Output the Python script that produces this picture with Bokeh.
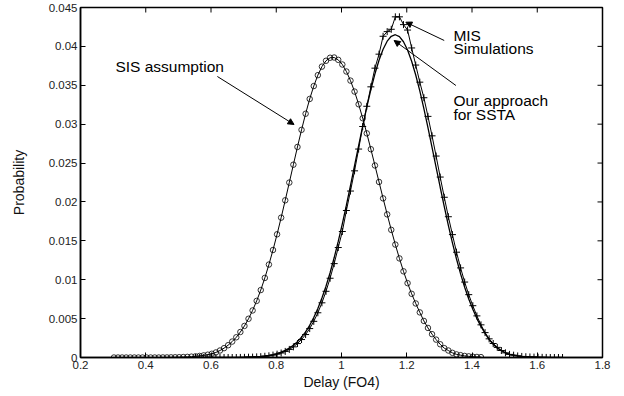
import math
from bokeh.plotting import figure
from bokeh.models import FixedTicker, Range1d, Arrow, NormalHead, Label
from bokeh.embed import file_html
from bokeh.resources import INLINE

# ---- data ----
sis_start, mis_start, bin_width = 0.3025, 0.5525, 0.0125

sis_prob = [0, 0, 0, 0, 0, 0, 0, 0, 0, 0,
            0, 0, 0.00001, 0.00001, 0.00002, 0.00003, 0.00004, 0.00006, 0.00008, 0.00011,
            0.00015, 0.0002, 0.00027, 0.00036, 0.00048, 0.00065, 0.0009, 0.0012, 0.00158, 0.00205,
            0.0026, 0.00328, 0.00406, 0.00498, 0.00605, 0.00728, 0.00867, 0.01023, 0.01195, 0.01382,
            0.01584, 0.01798, 0.02021, 0.02249, 0.02479, 0.02707, 0.02927, 0.03134, 0.03324, 0.0349,
            0.0363, 0.0374, 0.03815, 0.03854, 0.03857, 0.03827, 0.03767, 0.03677, 0.0356, 0.03419,
            0.03256, 0.03076, 0.02882, 0.02678, 0.02469, 0.02257, 0.02046, 0.0184, 0.01641, 0.01452,
            0.01274, 0.01108, 0.00956, 0.00819, 0.00695, 0.0058, 0.0047, 0.0038, 0.003, 0.0023,
            0.0017, 0.0012, 0.0009, 0.0006, 0.0004, 0.0003, 0.0002, 0.00015, 0.0001, 0.00007,
            0.00005]

mis_prob = [0, 0, 0, 0, 0, 0, 0, 0, 0, 0,
            0, 0.00001, 0.00002, 0.00004, 0.00005, 0.00008, 0.00011, 0.00016, 0.00022, 0.00031,
            0.00043, 0.00058, 0.00078, 0.00104, 0.00137, 0.00179, 0.00231, 0.00295, 0.00372, 0.00465,
            0.00575, 0.00703, 0.00851, 0.01019, 0.01207, 0.01414, 0.0162, 0.0189, 0.0214, 0.024,
            0.0268, 0.0297, 0.0323, 0.0348, 0.0372, 0.039, 0.0413, 0.0419, 0.0422, 0.0438,
            0.0438, 0.0428, 0.0421, 0.0398, 0.0376, 0.0354, 0.0334, 0.031, 0.0285, 0.0259,
            0.0232, 0.0206, 0.0181, 0.0158, 0.01354, 0.01152, 0.0097, 0.00808, 0.00666, 0.00535,
            0.0042, 0.0032, 0.0024, 0.0018, 0.0013, 0.0009, 0.0006, 0.0004, 0.0003, 0.0002,
            0.00014, 0.0001, 0.00007, 0.00005, 0.00003, 0.00002, 0.00001, 0, 0, 0,
            0]

ssta_prob = [0, 0, 0, 0, 0, 0, 0, 0, 0, 0,
             0, 0.00002, 0.00003, 0.00005, 0.00007, 0.0001, 0.00014, 0.0002, 0.00027, 0.00037,
             0.00051, 0.00069, 0.00092, 0.00121, 0.00158, 0.00204, 0.00261, 0.0033, 0.00414, 0.00513,
             0.00629, 0.00764, 0.00917, 0.0109, 0.01282, 0.01492, 0.01719, 0.01959, 0.02209, 0.02466,
             0.02723, 0.02976, 0.03218, 0.03444, 0.03647, 0.03822, 0.03963, 0.04067, 0.0413, 0.0415,
             0.04126, 0.0406, 0.03954, 0.03809, 0.03632, 0.03427, 0.032, 0.02956, 0.02702, 0.02445,
             0.02189, 0.01939, 0.017, 0.01474, 0.01266, 0.01075, 0.00904, 0.00752, 0.00619, 0.005,
             0.004, 0.0031, 0.0023, 0.0017, 0.0012, 0.0009, 0.0006, 0.0004, 0.0003, 0.0002,
             0.00014, 0.0001, 0.00007, 0.00005, 0.00003, 0.00002, 0.00001, 0, 0, 0,
             0]

# bin centres (uniform histogram bins)
sis_delay = [round(sis_start + bin_width * i, 4) for i in range(len(sis_prob))]
mis_delay = [round(mis_start + bin_width * i, 4) for i in range(len(mis_prob))]
ssta_delay = [round(mis_start + bin_width * i, 4) for i in range(len(ssta_prob))]

x_ticks = [0.2, 0.4, 0.6, 0.8, 1.0, 1.2, 1.4, 1.6, 1.8]
x_labels = ["0.2", "0.4", "0.6", "0.8", "1", "1.2", "1.4", "1.6", "1.8"]
y_ticks = [0, 0.005, 0.01, 0.015, 0.02, 0.025, 0.03, 0.035, 0.04, 0.045]
y_labels = ["0", "0.005", "0.01", "0.015", "0.02", "0.025", "0.03", "0.035", "0.04", "0.045"]

X_MIN, X_MAX, Y_MIN, Y_MAX = 0.2, 1.8, 0, 0.045
FONT = "Liberation Sans"

p = figure(width=624, height=396, x_range=Range1d(X_MIN, X_MAX), y_range=Range1d(Y_MIN, Y_MAX),
           output_backend="svg", toolbar_location=None,
           min_border_left=80, min_border_right=22, min_border_top=7, min_border_bottom=39)
p.grid.visible = False
p.outline_line_color = "black"
p.outline_line_width = 1.5
p.background_fill_color = "white"
p.border_fill_color = "white"


def style_axis(ax, ticks, labels):
    ax.ticker = FixedTicker(ticks=ticks)
    ax.major_label_overrides = {t: l for t, l in zip(ticks, labels)}
    ax.major_tick_in = 5
    ax.major_tick_out = 0
    ax.minor_tick_in = 0
    ax.minor_tick_out = 0
    ax.axis_line_width = 1.5
    ax.major_tick_line_width = 1
    ax.major_label_standoff = 3
    ax.major_label_text_font = FONT
    ax.major_label_text_font_size = "11.5px"
    ax.major_label_text_color = "#222222"
    ax.axis_label_text_font = FONT
    ax.axis_label_text_font_size = "14px"
    ax.axis_label_text_font_style = "normal"
    ax.axis_label_text_color = "#111111"


style_axis(p.xaxis[0], x_ticks, x_labels)
style_axis(p.yaxis[0], y_ticks, y_labels)
p.xaxis[0].axis_label = "Delay (FO4)"
p.xaxis[0].axis_label_standoff = 2
p.yaxis[0].axis_label = "Probability"
p.yaxis[0].axis_label_standoff = 19

# tick marks on the top and right edges of the box (half of each dash is clipped by the frame)
p.scatter(x_ticks, [Y_MAX] * len(x_ticks), marker="dash", angle=math.pi / 2, size=10,
          line_color="black", line_width=1)
p.scatter([X_MAX] * len(y_ticks), y_ticks, marker="dash", size=10,
          line_color="black", line_width=1)

# curves
p.line(sis_delay, sis_prob, line_color="black", line_width=1)
p.scatter(sis_delay, sis_prob, marker="circle", size=5.5, fill_color=None,
          line_color="black", line_width=0.8)

p.line(ssta_delay, ssta_prob, line_color="black", line_width=1.3)

p.line(mis_delay, mis_prob, line_color="black", line_width=1)
p.scatter(mis_delay, mis_prob, marker="cross", size=7, line_color="black", line_width=1)


# annotations
def label(x, y, t):
    p.add_layout(Label(x=x, y=y, text=t, text_baseline="middle", text_font=FONT,
                       text_font_size="15.5px", text_color="black"))


label(0.307, 0.0374, "SIS assumption")
label(1.343, 0.0414, "MIS")
label(1.343, 0.03967, "Simulations")
label(1.343, 0.03305, "Our approach")
label(1.343, 0.03125, "for SSTA")

for xs, ys, xe, ye in ((0.6195, 0.03613, 0.8545, 0.02996),
                       (1.3148, 0.04076, 1.1972, 0.04311),
                       (1.3507, 0.03497, 1.1613, 0.04076)):
    p.add_layout(Arrow(end=NormalHead(size=6, fill_color="black", line_color="black", line_width=1),
                       x_start=xs, y_start=ys, x_end=xe, y_end=ye,
                       line_color="black", line_width=1))

open("out.html", "w").write(file_html(p, INLINE))
